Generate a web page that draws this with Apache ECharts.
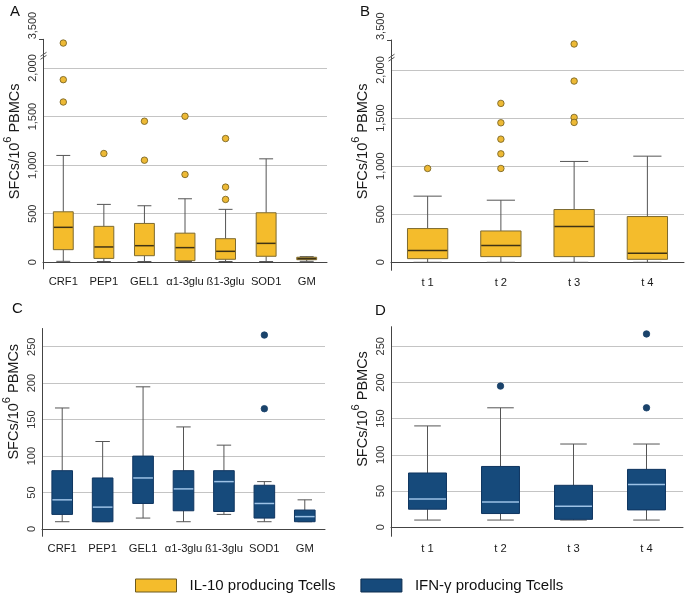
<!DOCTYPE html>
<html><head><meta charset="utf-8">
<script src="https://cdn.jsdelivr.net/npm/echarts@6/dist/echarts.min.js"></script>
<style>html,body{margin:0;padding:0;background:#fff}#c{width:686px;height:598px}</style>
</head><body><div id="c"></div>
<script>
const antigenCats = ['CRF1','PEP1','GEL1','α1-3glu','ß1-3glu','SOD1','GM'];
const timeCats = ['t 1','t 2','t 3','t 4'];
// box stats: [min, Q1, median, Q3, max]
const il10AntigenBoxes = [
  [10,130,360,520,1100],
  [8,40,158,370,596],
  [8,68,171,400,582],
  [8,17,151,300,654],
  [8,31,113,243,545],
  [8,62,195,510,1065],
  [10,27,38,52,58]
];
const il10AntigenOutliers = [['CRF1',3450],['CRF1',1880],['CRF1',1650],['PEP1',1120],['GEL1',1452],['GEL1',1051],['α1-3glu',1503],['α1-3glu',904],['ß1-3glu',1274],['ß1-3glu',774],['ß1-3glu',647]];
const il10TimeBoxes = [
  [0,38,122,351,688],
  [0,59,174,326,646],
  [0,59,372,549,1049],
  [0,31,94,476,1104]
];
const il10TimeOutliers = [['t 1',976],['t 2',1653],['t 2',1451],['t 2',1281],['t 2',1128],['t 2',976],['t 3',3450],['t 3',1885],['t 3',1507],['t 3',1455]];
const ifngAntigenBoxes = [
  [10,20,40,80,166],
  [10,10,30,70,120],
  [15,35,70,100,195],
  [10,25,55,80,140],
  [20,24,65,80,115],
  [10,15,35,60,65],
  [10,10,17,26,40]
];
const ifngAntigenOutliers = [['SOD1',266],['SOD1',165]];
const ifngTimeBoxes = [
  [10,25,39,75,140],
  [10,19,35,84,165],
  [10,11,29,58,115],
  [10,24,59,80,115]
];
const ifngTimeOutliers = [['t 2',195],['t 4',267],['t 4',165]];
// IL-10 axis is broken between these values
const breakLow = 2100, breakHigh = 3300;
const il10TopTick = 3500;

const IL10 = 'IL-10 producing Tcells';
const IFNG = 'IFN-γ producing Tcells';
const FONT = 'Liberation Sans, Arial, sans-serif';
const yellowStyle = {fill:'#F4BC2C', border:'#7d6a30', median:'#3f3315', whisker:'#555', dot:'#EDB935', dotBorder:'#6d5a1e'};
const blueStyle = {fill:'#164A7B', border:'#0f3560', median:'#9dc2e6', whisker:'#555', dot:'#1a436b', dotBorder:'#1a436b'};

function boxSeries(name, boxes, idx, st, ratio) {
  return {
    type:'custom', name, xAxisIndex:idx, yAxisIndex:idx,
    itemStyle:{color:st.fill},
    data: boxes.map((b,i)=>[i].concat(b)),
    encode:{x:0, y:[1,2,3,4,5]},
    renderItem:(params, api)=>{
      const i = api.value(0);
      const pMin = api.coord([i, api.value(1)]);
      const pQ1 = api.coord([i, api.value(2)]);
      const pMed = api.coord([i, api.value(3)]);
      const pQ3 = api.coord([i, api.value(4)]);
      const pMax = api.coord([i, api.value(5)]);
      const band = api.size([1,0])[0];
      const bw = band*ratio, cw = bw*0.7, cx = pMed[0];
      const wl = {stroke:st.whisker, lineWidth:1};
      return {type:'group', children:[
        {type:'line', shape:{x1:cx,y1:pMax[1],x2:cx,y2:pQ3[1]}, style:wl},
        {type:'line', shape:{x1:cx,y1:pQ1[1],x2:cx,y2:pMin[1]}, style:wl},
        {type:'line', shape:{x1:cx-cw/2,y1:pMax[1],x2:cx+cw/2,y2:pMax[1]}, style:wl},
        {type:'line', shape:{x1:cx-cw/2,y1:pMin[1],x2:cx+cw/2,y2:pMin[1]}, style:wl},
        {type:'rect', shape:{x:cx-bw/2,y:pQ3[1],width:bw,height:pQ1[1]-pQ3[1]}, style:{fill:st.fill, stroke:st.border, lineWidth:1}},
        {type:'line', shape:{x1:cx-bw/2+0.5,y1:pMed[1],x2:cx+bw/2-0.5,y2:pMed[1]}, style:{stroke:st.median, lineWidth:1.5}}
      ]};
    },
    z:3
  };
}
function outlierSeries(name, cats, outs, idx, st) {
  return {
    type:'scatter', name, xAxisIndex:idx, yAxisIndex:idx,
    data: outs.map(o=>[cats.indexOf(o[0]), o[1]]),
    symbolSize:6.5,
    itemStyle:{color:st.dot, borderColor:st.dotBorder, borderWidth:0.8, opacity:1},
    z:4
  };
}

// 0: A lower, 1: B lower, 2: C, 3: D, 4: A upper (above break), 5: B upper
const gridDefs = [
  {left:43, top:58.3, width:284, height:204},
  {left:391, top:60.4, width:293, height:201.9},
  {left:42, top:328.5, width:283, height:200.5},
  {left:391, top:326.7, width:292, height:200.6},
  {left:43, top:39.3, width:284, height:15},
  {left:391, top:40, width:293, height:16}
];
const xOffsets = [7, 8.4, 7.7, 9.4];
const namePads = [38, 40, 54, 36];

function xAxisDef(cats, idx) {
  return {
    type:'category', gridIndex:idx, data:cats, offset:xOffsets[idx],
    axisLine:{show:true, lineStyle:{color:'#444', width:1}},
    axisTick:{show:false},
    axisLabel:{fontFamily:FONT, fontSize:11.2, color:'#1a1a1a', margin:7, interval:0},
    splitLine:{show:false}
  };
}
function hiddenX(cats, idx) {
  return {type:'category', gridIndex:idx, data:cats, show:false};
}
function yAxisDef(idx, opts) {
  return Object.assign({
    type:'value', gridIndex:idx, min:0,
    name:'{a|SFCs/10}{s|6}{a| PBMCs}', nameLocation:'middle', nameRotate:90, nameGap:21,
    nameTextStyle:{fontFamily:FONT, color:'#1a1a1a', padding:[0,0,0,namePads[idx]],
      rich:{a:{fontFamily:FONT, fontSize:14.5, color:'#1a1a1a', lineHeight:20, verticalAlign:'bottom'},
            s:{fontFamily:FONT, fontSize:11, color:'#1a1a1a', lineHeight:20, verticalAlign:'top'}}},
    axisLine:{show:true, lineStyle:{color:'#444', width:1}},
    axisTick:{show:false},
    axisLabel:{fontFamily:FONT, fontSize:11, color:'#333', rotate:90, margin:5,
      showMaxLabel: false, formatter:v=>Number(v).toLocaleString('en-US')},
    splitLine:{show:true, showMinLine:true, showMaxLine:false, lineStyle:{color:'#c4c4c4', width:1}}
  }, opts);
}
function upperY(idx) {
  return {
    type:'value', gridIndex:idx, min:breakHigh, max:il10TopTick, interval:100,
    axisLine:{show:true, lineStyle:{color:'#444', width:1}},
    axisTick:{show:true, length:4, customValues:[il10TopTick], lineStyle:{color:'#444'}},
    axisLabel:{fontFamily:FONT, fontSize:11, color:'#333', rotate:90, margin:5, align:'left',
      customValues:[il10TopTick], showMinLabel:false,
      formatter:v=>v===il10TopTick ? Number(v).toLocaleString('en-US') : ''},
    splitLine:{show:false}
  };
}

const graphics = [];
[['A',10,4],['B',360,4],['C',12,301],['D',375,303]].forEach(([t,x,y])=>{
  graphics.push({type:'text', left:x, top:y, style:{text:t, font:'15px '+FONT, fill:'#111'}});
});
// y-axis line extension down to offset x-axis
gridDefs.slice(0,4).forEach((g,i)=>{
  const yb = g.top + g.height;
  graphics.push({type:'line', shape:{x1:g.left+0.5, y1:yb, x2:g.left+0.5, y2:yb+xOffsets[i]}, style:{stroke:'#444', lineWidth:1}});
});
// axis break marks
[[43.5,56.3],[391.5,58.2]].forEach(([x,y])=>{
  graphics.push({type:'line', shape:{x1:x,y1:y-3,x2:x,y2:y+3}, style:{stroke:'#444', lineWidth:1}, z:10});
  graphics.push({type:'line', shape:{x1:x-3,y1:y,x2:x+3,y2:y-4}, style:{stroke:'#555', lineWidth:1}, z:11});
  graphics.push({type:'line', shape:{x1:x-3,y1:y+3,x2:x+3,y2:y-1}, style:{stroke:'#555', lineWidth:1}, z:11});
});

const lowOut = arr => arr.filter(o=>o[1] <= breakLow);
const highOut = arr => arr.filter(o=>o[1] > breakLow);

const chart = echarts.init(document.getElementById('c'), null, {renderer:'canvas'});
chart.setOption({
  animation:false,
  backgroundColor:'#fff',
  textStyle:{fontFamily:FONT},
  grid: gridDefs,
  xAxis:[xAxisDef(antigenCats,0), xAxisDef(timeCats,1), xAxisDef(antigenCats,2), xAxisDef(timeCats,3),
         hiddenX(antigenCats,4), hiddenX(timeCats,5)],
  yAxis:[yAxisDef(0,{max:breakLow, interval:500}), yAxisDef(1,{max:breakLow, interval:500}),
         yAxisDef(2,{max:275, interval:50}), yAxisDef(3,{max:277, interval:50}),
         upperY(4), upperY(5)],
  legend:{
    left:135, top:578, padding:0, itemWidth:41, itemHeight:13, itemGap:25, icon:'rect',
    textStyle:{fontFamily:FONT, fontSize:15, color:'#111', padding:[0,0,0,8]},
    data:[
      {name:IL10, itemStyle:{color:'#F4BC2C', borderColor:'#6d5a1e', borderWidth:1}},
      {name:IFNG, itemStyle:{color:'#164A7B', borderColor:'#0c2c4f', borderWidth:1}}
    ]
  },
  graphic: graphics,
  series:[
    boxSeries(IL10, il10AntigenBoxes, 0, yellowStyle, 0.49),
    outlierSeries('IL-10 outliers', antigenCats, lowOut(il10AntigenOutliers), 0, yellowStyle),
    outlierSeries('IL-10 outliers', antigenCats, highOut(il10AntigenOutliers), 4, yellowStyle),
    boxSeries(IL10, il10TimeBoxes, 1, yellowStyle, 0.55),
    outlierSeries('IL-10 outliers', timeCats, lowOut(il10TimeOutliers), 1, yellowStyle),
    outlierSeries('IL-10 outliers', timeCats, highOut(il10TimeOutliers), 5, yellowStyle),
    boxSeries(IFNG, ifngAntigenBoxes, 2, blueStyle, 0.51),
    outlierSeries('IFN-γ outliers', antigenCats, ifngAntigenOutliers, 2, blueStyle),
    boxSeries(IFNG, ifngTimeBoxes, 3, blueStyle, 0.52),
    outlierSeries('IFN-γ outliers', timeCats, ifngTimeOutliers, 3, blueStyle)
  ]
});
</script></body></html>
